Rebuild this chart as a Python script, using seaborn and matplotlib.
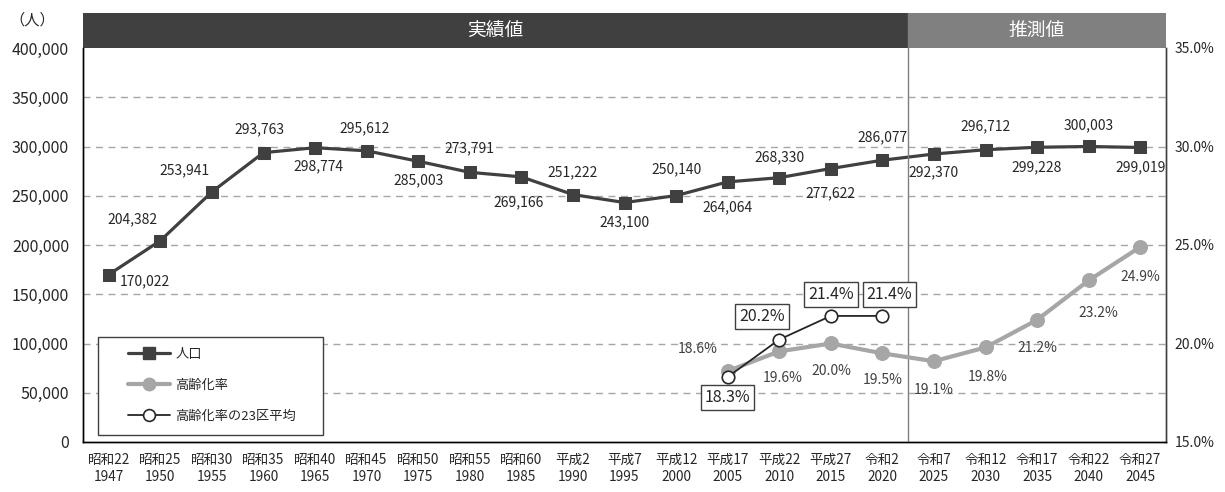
import matplotlib
matplotlib.use("Agg")
import matplotlib.pyplot as plt
import matplotlib.transforms as mtransforms
from matplotlib.patches import Rectangle
from matplotlib.lines import Line2D
import seaborn as sns
import pandas as pd

# ---------------- data ----------------
era = ['昭和22', '昭和25', '昭和30', '昭和35', '昭和40', '昭和45', '昭和50', '昭和55',
       '昭和60', '平成2', '平成7', '平成12', '平成17', '平成22', '平成27', '令和2',
       '令和7', '令和12', '令和17', '令和22', '令和27']
years = [1947, 1950, 1955, 1960, 1965, 1970, 1975, 1980, 1985, 1990, 1995, 2000,
         2005, 2010, 2015, 2020, 2025, 2030, 2035, 2040, 2045]
population = [170022, 204382, 253941, 293763, 298774, 295612, 285003, 273791, 269166,
              251222, 243100, 250140, 264064, 268330, 277622, 286077, 292370, 296712,
              299228, 300003, 299019]
aging_years = [2005, 2010, 2015, 2020, 2025, 2030, 2035, 2040, 2045]
aging_rate = [18.6, 19.6, 20.0, 19.5, 19.1, 19.8, 21.2, 23.2, 24.9]
ward_years = [2005, 2010, 2015, 2020]
ward_avg = [18.3, 20.2, 21.4, 21.4]
left_ticks = [0, 50000, 100000, 150000, 200000, 250000, 300000, 350000, 400000]
right_ticks = [15, 20, 25, 30, 35]
header_labels = ['実績値', '推測値']
legend_labels = ['人口', '高齢化率', '高齢化率の23区平均']

# ---------------- style ----------------
sns.set_style("white")
plt.rcParams['font.family'] = ['Noto Sans CJK JP', 'DejaVu Sans']

DARK = '#404040'
LIGHT = '#A6A6A6'
GRID = '#A6A6A6'

pos = {y: i for i, y in enumerate(years)}
df_pop = pd.DataFrame({'x': range(len(years)), 'v': population})
df_age = pd.DataFrame({'x': [pos[y] for y in aging_years], 'v': aging_rate})
df_ward = pd.DataFrame({'x': [pos[y] for y in ward_years], 'v': ward_avg})

fig = plt.figure(figsize=(12.25, 4.92), dpi=100)
ax = fig.add_axes([83 / 1225, 1 - 442 / 492, 1083 / 1225, 394 / 492])
ax2 = ax.twinx()

n = len(years)
ax.set_xlim(-0.5, n - 0.5)
ax.set_ylim(0, 400000)
ax2.set_ylim(15, 35)

# grid
for v in left_ticks[1:-1]:
    ax.axhline(v, color=GRID, lw=1, ls=(0, (5, 4)), zorder=0)

# population
sns.lineplot(data=df_pop, x='x', y='v', ax=ax, color=DARK, lw=2.3, marker='s',
             markersize=8.5, markeredgecolor=DARK, markerfacecolor=DARK, zorder=3)

# aging rate
sns.lineplot(data=df_age, x='x', y='v', ax=ax2, color=LIGHT, lw=3, marker='o',
             markersize=10, markeredgecolor=LIGHT, markerfacecolor=LIGHT, zorder=3)
# ward average
sns.lineplot(data=df_ward, x='x', y='v', ax=ax2, color='#262626', lw=1.3, marker='o',
             markersize=9, markeredgecolor='#262626', markerfacecolor='white',
             markeredgewidth=1.2, zorder=4)

# axes labels / ticks
ax.set_xticks(range(n))
ax.set_xticklabels([f"{e}\n{y}" for e, y in zip(era, years)], fontsize=9.8,
                   linespacing=1.3)
ax.set_yticks(left_ticks)
ax.set_yticklabels([f"{v:,}" for v in left_ticks], fontsize=11.5)
ax2.set_yticks(right_ticks)
ax2.set_yticklabels([f"{v:.1f}%" for v in right_ticks], fontsize=10)
ax.tick_params(axis='x', length=0, pad=8)
ax.tick_params(axis='y', length=0, pad=10)
ax2.tick_params(axis='y', length=0, pad=6)
ax.set_xlabel('')
ax.set_ylabel('')
ax2.set_xlabel('')
ax2.set_ylabel('')

for a in (ax, ax2):
    a.spines['top'].set_visible(False)
    a.spines['left'].set_color('black')
    a.spines['bottom'].set_color('black')
    a.spines['right'].set_color('#404040')
    for s in a.spines.values():
        s.set_linewidth(1)

# header band
trans = mtransforms.blended_transform_factory(ax.transData, ax.transAxes)
band_h = 35 / 394
split = pos[2020] + 0.5
ax.add_patch(Rectangle((-0.5, 1.0), split + 0.5, band_h, transform=trans,
                       facecolor=DARK, edgecolor='none', clip_on=False, zorder=5))
ax.add_patch(Rectangle((split, 1.0), n - 0.5 - split, band_h, transform=trans,
                       facecolor='#808080', edgecolor='none', clip_on=False, zorder=5))
ax.text((-0.5 + split) / 2, 1 + band_h / 2, header_labels[0], transform=trans,
        color='white', fontsize=13.5, ha='center', va='center', zorder=6)
ax.text((split + n - 0.5) / 2, 1 + band_h / 2, header_labels[1], transform=trans,
        color='white', fontsize=13.5, ha='center', va='center', zorder=6)
ax.plot([split, split], [0, 1 + band_h], transform=trans, color='#7f7f7f', lw=1,
        clip_on=False, zorder=6)

# unit label
fig.text(32 / 1225, 1 - 20 / 492, '（人）', fontsize=11, ha='center', va='center')

# population labels (pixel offsets)
pop_off = [(36, -7), (-28, 21), (-27, 22), (-4, 23), (3, -19), (-2, 23), (0, -19),
           (0, 24), (-3, -25), (0, 22), (0, -20), (0, 26), (0, -25), (0, 20),
           (0, -25), (0, 23), (0, -18), (0, 23), (0, -20), (0, 21), (0, -20)]
for i, (v, off) in enumerate(zip(population, pop_off)):
    ax.annotate(f"{v:,}", (i, v), xytext=off, textcoords='offset pixels',
                ha='center', va='center', fontsize=10, color='#262626', zorder=7)

# aging labels
age_off = [(-30, 22), (3, -27), (1, -28), (0, -27), (0, -29), (2, -30), (0, -28),
           (10, -33), (0, -30)]
for x, v, off in zip(df_age['x'], aging_rate, age_off):
    ax2.annotate(f"{v:.1f}%", (x, v), xytext=off, textcoords='offset pixels',
                 ha='center', va='center', fontsize=10, color='#404040', zorder=7)

# ward labels (boxed)
ward_off = [(0, -21), (-17, 23), (0, 21), (7, 21)]
for x, v, off in zip(df_ward['x'], ward_avg, ward_off):
    ax2.annotate(f"{v:.1f}%", (x, v), xytext=off, textcoords='offset pixels',
                 ha='center', va='center', fontsize=11.5, color='#262626', zorder=8,
                 bbox=dict(boxstyle='square,pad=0.25', facecolor='white',
                           edgecolor='#404040', lw=1))

# legend: manual frame + frameless legend inside
ax2.add_patch(Rectangle((15 / 1083, 7 / 394), 225 / 1083, 98 / 394,
                        transform=ax2.transAxes, facecolor='white',
                        edgecolor='#404040', lw=1, zorder=9))
handles = [
    Line2D([], [], color=DARK, lw=2.3, marker='s', markersize=8,
           markerfacecolor=DARK, markeredgecolor=DARK),
    Line2D([], [], color=LIGHT, lw=3, marker='o', markersize=9,
           markerfacecolor=LIGHT, markeredgecolor=LIGHT),
    Line2D([], [], color='#262626', lw=1.3, marker='o', markersize=8.5,
           markerfacecolor='white', markeredgecolor='#262626', markeredgewidth=1.2),
]
leg = ax2.legend(handles, legend_labels, loc='upper left',
                 bbox_to_anchor=(45 / 1083, (442 - 348) / 394),
                 fontsize=9.5, frameon=False, handlelength=3.2,
                 handletextpad=0.4, labelspacing=1.35, borderpad=0.0,
                 borderaxespad=0)
leg.set_zorder(10)

fig.savefig('out.png', dpi=100)
